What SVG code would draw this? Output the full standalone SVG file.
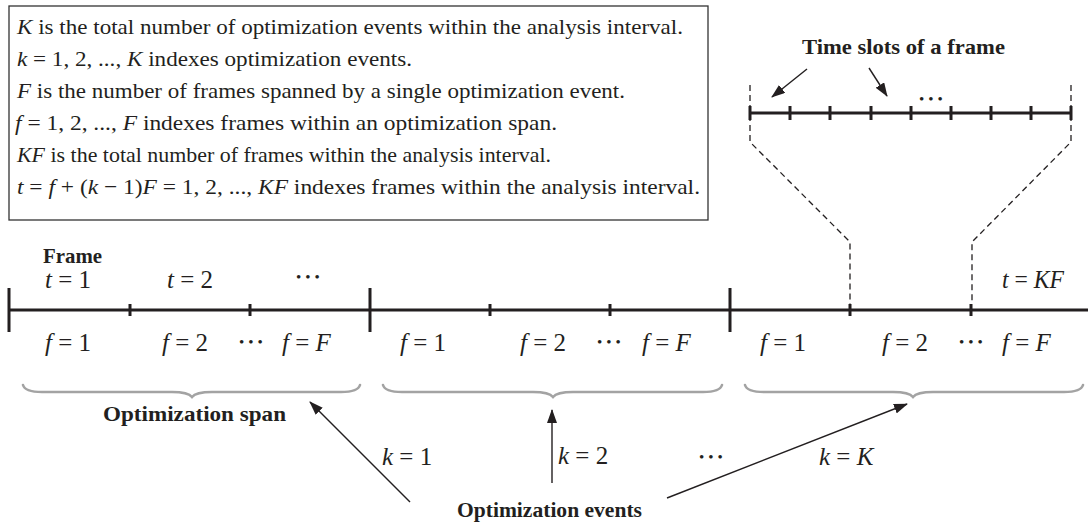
<svg xmlns="http://www.w3.org/2000/svg" width="1088" height="525" viewBox="0 0 1088 525">
<style>
text{font-family:"Liberation Serif","Times New Roman",serif;fill:#231f20}
.bx{font-size:22px}
.m{font-size:25px}
.b{font-size:22px;font-weight:bold}
.i{font-style:italic}
.dots{font-size:15px;letter-spacing:4px}
.ln{stroke:#231f20;fill:none}
.thick{stroke-width:3}
.dash{stroke:#231f20;stroke-width:1.3;stroke-dasharray:6 4;fill:none}
.brace{stroke:#a3a3a3;stroke-width:2.6;fill:none;stroke-linecap:round}
.arr{stroke:#231f20;stroke-width:1.4;fill:none;marker-end:url(#ah)}
</style>
<defs>
<marker id="ah" viewBox="0 0 14 10" refX="13" refY="5" markerWidth="14" markerHeight="10" markerUnits="userSpaceOnUse" orient="auto"><path d="M0,0 L14,5 L0,10 z" fill="#231f20"/></marker>
</defs>

<g id="legend">
<rect x="9" y="6" width="699" height="214" fill="#fff" stroke="#333" stroke-width="1.3"/>
<text class="bx" x="17" y="34" textLength="666" lengthAdjust="spacingAndGlyphs"><tspan class="i">K</tspan> is the total number of optimization events within the analysis interval.</text>
<text class="bx" x="17" y="66" textLength="395" lengthAdjust="spacingAndGlyphs"><tspan class="i">k</tspan> = 1, 2, ..., <tspan class="i">K</tspan> indexes optimization events.</text>
<text class="bx" x="17" y="98" textLength="608" lengthAdjust="spacingAndGlyphs"><tspan class="i">F</tspan> is the number of frames spanned by a single optimization event.</text>
<text class="bx" x="15" y="130" textLength="542" lengthAdjust="spacingAndGlyphs"><tspan class="i">f</tspan> = 1, 2, ..., <tspan class="i">F</tspan> indexes frames within an optimization span.</text>
<text class="bx" x="17" y="162" textLength="534" lengthAdjust="spacingAndGlyphs"><tspan class="i">KF</tspan> is the total number of frames within the analysis interval.</text>
<text class="bx" x="17" y="194" textLength="683" lengthAdjust="spacingAndGlyphs"><tspan class="i">t</tspan> = <tspan class="i">f</tspan> + (<tspan class="i">k</tspan> − 1)<tspan class="i">F</tspan> = 1, 2, ..., <tspan class="i">KF</tspan> indexes frames within the analysis interval.</text>
</g>

<g id="time-slots">
<text class="b" x="802" y="54" textLength="203" lengthAdjust="spacingAndGlyphs">Time slots of a frame</text>
<line class="ln thick" x1="750" y1="113" x2="1071" y2="113"/>
<path class="ln thick" d="M750,106V120M790,106V120M830,106V120M871,106V120M911,106V120M951,106V120M991,106V120M1031,106V120M1071,106V120"/>
<text class="dots" x="919" y="104">•••</text>
</g>

<g id="timeline">
<line class="ln thick" x1="9" y1="310" x2="1088" y2="310"/>
<path class="ln thick" d="M9,288V332M370,288V332M730,288V332"/>
<path class="ln thick" d="M130,304V316M250,304V316M490,304V316M610,304V316M850,304V316M971,304V316"/>
</g>

<g id="frame-labels">
<text class="b" x="43" y="263" textLength="59" lengthAdjust="spacingAndGlyphs">Frame</text>
<text class="m" x="45" y="288"><tspan class="i">t</tspan> = 1</text>
<text class="m" x="167" y="288"><tspan class="i">t</tspan> = 2</text>
<text class="dots" x="296" y="282">•••</text>
<text class="m" x="1002" y="288" textLength="62" lengthAdjust="spacingAndGlyphs"><tspan class="i">t</tspan> = <tspan class="i">KF</tspan></text>
</g>

<g id="span1">
<text class="m" x="45" y="351"><tspan class="i">f</tspan> = 1</text>
<text class="m" x="162" y="351"><tspan class="i">f</tspan> = 2</text>
<text class="dots" x="239" y="347">•••</text>
<text class="m" x="282" y="351"><tspan class="i">f</tspan> = <tspan class="i">F</tspan></text>
<path class="brace" d="M23,385 Q25,392 42,392 L172,392 Q188,392 192,397 Q196,392 212,392 L341,392 Q358,392 360,385"/>
<text class="b" x="103" y="421" textLength="183" lengthAdjust="spacingAndGlyphs">Optimization span</text>
</g>

<g id="span2">
<text class="m" x="400" y="351"><tspan class="i">f</tspan> = 1</text>
<text class="m" x="520" y="351"><tspan class="i">f</tspan> = 2</text>
<text class="dots" x="597" y="347">•••</text>
<text class="m" x="642" y="351"><tspan class="i">f</tspan> = <tspan class="i">F</tspan></text>
<path class="brace" d="M383,385 Q385,392 402,392 L533,392 Q549,392 553,397 Q557,392 573,392 L703,392 Q720,392 722,385"/>
</g>

<g id="span3">
<text class="m" x="760" y="351"><tspan class="i">f</tspan> = 1</text>
<text class="m" x="882" y="351"><tspan class="i">f</tspan> = 2</text>
<text class="dots" x="959" y="347">•••</text>
<text class="m" x="1002" y="351"><tspan class="i">f</tspan> = <tspan class="i">F</tspan></text>
<path class="brace" d="M745,385 Q747,392 764,392 L893,392 Q909,392 913,397 Q917,392 933,392 L1064,392 Q1081,392 1083,385"/>
</g>

<g id="events">
<text class="m" x="382" y="465"><tspan class="i">k</tspan> = 1</text>
<text class="m" x="558" y="464"><tspan class="i">k</tspan> = 2</text>
<text class="dots" x="699" y="462">•••</text>
<text class="m" x="819" y="465"><tspan class="i">k</tspan> = <tspan class="i">K</tspan></text>
<text class="b" x="457" y="517" textLength="185" lengthAdjust="spacingAndGlyphs">Optimization events</text>
</g>

<g id="connectors">
<path class="dash" d="M750,85 L750,142 L850,242 L850,304"/>
<path class="dash" d="M1071,85 L1071,142 L972,242 L972,304"/>
<line class="arr" x1="807" y1="69" x2="772" y2="97"/>
<line class="arr" x1="869" y1="68" x2="887" y2="96"/>
<line class="arr" x1="410" y1="502" x2="310" y2="402"/>
<line class="arr" x1="552" y1="483" x2="552" y2="410"/>
<line class="arr" x1="667" y1="498" x2="907" y2="404"/>
</g>
</svg>
